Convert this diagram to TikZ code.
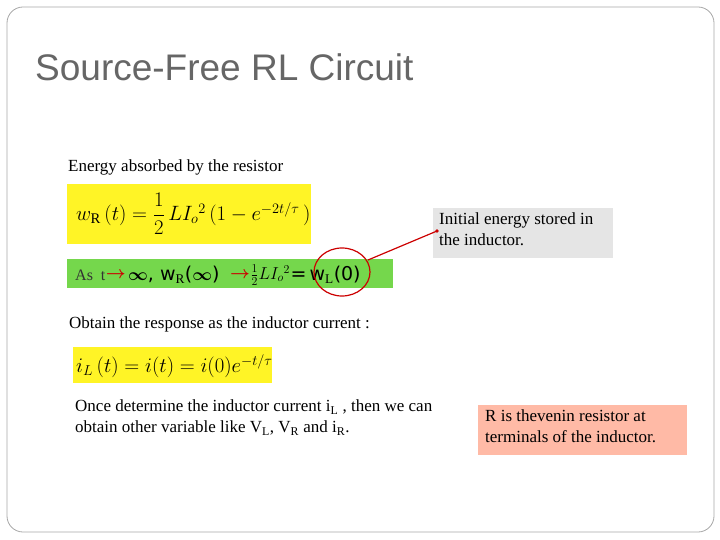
\documentclass[tikz,border=0pt]{standalone}
\usepackage{amsmath}
\usepackage{fontspec}
\setmainfont{Liberation Serif}
\newfontfamily\sans{Liberation Sans}
\newfontfamily\dv{DejaVu Sans}
\begin{document}
\begin{tikzpicture}[x=1pt,y=-1pt,
  txt/.style={anchor=west,inner sep=0pt,font=\fontsize{17}{21}\selectfont},
  gt/.style={inner sep=0pt,font=\dv\fontsize{19}{22}\selectfont}]
\useasboundingbox (0,0) rectangle (720,540);
\draw[gray!70,line width=0.8pt,rounded corners=16pt] (7,7) rectangle (714,532);
\node[anchor=west,inner sep=0pt,text=gray!80!black,font=\sans\fontsize{37}{40}\selectfont] (title) at (35,67) {Source-Free RL Circuit};
\node[txt] (t1) at (68,167) {Energy absorbed by the resistor};
\fill[yellow!85!white] (67,184) rectangle (311,244);
\node[anchor=west,inner sep=0pt,font=\fontsize{21}{24}\selectfont] (f1) at (76,214)
 {$w_{\mathrm R}\,(t)=\dfrac{1}{2}\,LI_o{}^2\,(1-e^{-2t/\tau}\,)$};
\fill[green!55!olive!70!white] (67,259) rectangle (393,288);
\node[anchor=west,inner sep=0pt,font=\fontsize{16}{19}\selectfont,text=gray!40!black] (as) at (75,275) {As\ \ t};
\node[gt,anchor=west] (a1) at (as.east) {\color{red!80!black}$\boldsymbol\rightarrow$};
\node[gt,anchor=west] (inf) at ([xshift=2pt]a1.east) {$\boldsymbol\infty$, w$_{\mathrm R}$($\boldsymbol\infty$)};
\node[gt,anchor=west] (a2) at ([xshift=10pt]inf.east) {\color{red!80!black}$\boldsymbol\rightarrow$};
\node[anchor=west,inner sep=0pt,font=\fontsize{17}{19}\selectfont] (half) at (a2.east) {$\frac12 LI_o{}^2$};
\node[gt,anchor=west] (wl) at (half.east) {=\,w$_{\mathrm L}$(0)};
\draw[red!80!black,line width=1.2pt] (342,272) ellipse (28 and 24);
\coordinate (e) at (368,260);
\fill[gray!20] (433,208) rectangle (613,258);
\node[txt,align=left,anchor=north west] (g) at (439,213) {Initial energy stored in\\the inductor.};
\draw[red!80!black,line width=1.2pt] (e) -- (437,231);
\fill[red!80!black] (437,231) circle (1.8);
\node[txt] (t2) at (69,324) {Obtain the response as the inductor current :};
\fill[yellow!85!white] (73,347) rectangle (272,383);
\node[anchor=west,inner sep=0pt,font=\fontsize{20}{24}\selectfont] (f3) at (76,366)
 {$i_L\,(t)=i(t)=i(0)e^{-t/\tau}$};
\node[txt,align=left,anchor=north west] (t3) at (75,400) {Once determine the inductor current i$_{\mathrm L}$ , then we can\\obtain other variable like V$_{\mathrm L}$, V$_{\mathrm R}$ and i$_{\mathrm R}$.};
\fill[orange!45!red!35!white] (478,405) rectangle (687,455);
\node[txt,align=left,anchor=north west] (s) at (485,410) {R is thevenin resistor at\\terminals of the inductor.};
\end{tikzpicture}
\end{document}
